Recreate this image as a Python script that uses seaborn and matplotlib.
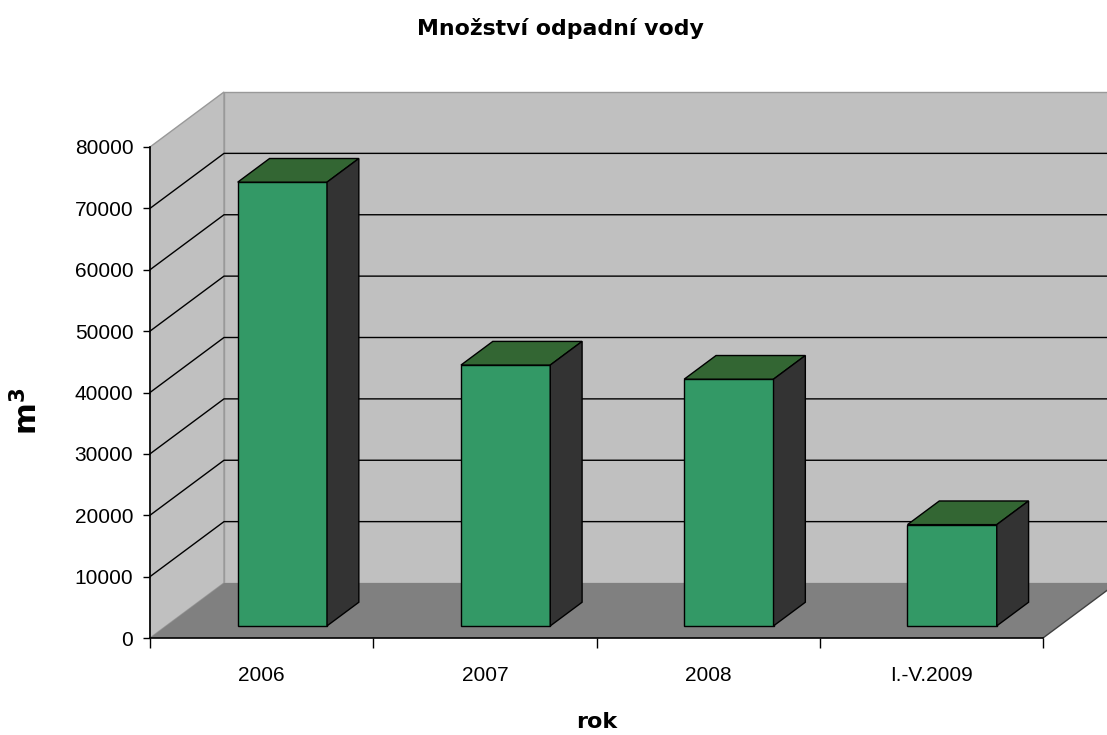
import numpy as np
import pandas as pd
import matplotlib
matplotlib.use("Agg")
import matplotlib.pyplot as plt
from matplotlib.patches import Polygon
import seaborn as sns

# chart data
years = ["2006", "2007", "2008", "I.-V.2009"]
volumes = [72300, 42500, 40200, 16500]
y_ticks = [0, 10000, 20000, 30000, 40000, 50000, 60000, 70000, 80000]

front_green = "#339966"
top_green = "#336633"
side_dark = "#333333"
wall_grey = "#c0c0c0"
floor_grey = "#808080"

sns.set_theme(style="ticks")
plt.rcParams["font.family"] = ["Liberation Sans", "DejaVu Sans"]
plt.rcParams["mathtext.fontset"] = "dejavusans"
plt.rcParams.update({"text.color": "black", "axes.labelcolor": "black",
                     "xtick.color": "black", "ytick.color": "black"})

fig = plt.figure(figsize=(11.07, 7.35), dpi=100)
ax = fig.add_axes([150 / 1107, 97 / 735, 893 / 1107, 491 / 735])

# depth of the fake 3d box in data units (about 74 px right, 55 px up)
DX = 4 * 74 / 893
DY = 80000 * 55 / 491
x0, x1 = -0.5, len(years) - 0.5
ytop = y_ticks[-1]


def pt(x, v, d):
    return (x + d * DX, v + d * DY)


# walls and floor
back = Polygon([pt(x0, 0, 1), pt(x1, 0, 1), pt(x1, ytop, 1), pt(x0, ytop, 1)],
               facecolor=wall_grey, edgecolor="#999999", lw=1, zorder=0.5, clip_on=False)
side = Polygon([pt(x0, 0, 0), pt(x0, 0, 1), pt(x0, ytop, 1), pt(x0, ytop, 0)],
               facecolor=wall_grey, edgecolor="#999999", lw=1, zorder=0.5, clip_on=False)
floor = Polygon([pt(x0, 0, 0), pt(x1, 0, 0), pt(x1, 0, 1), pt(x0, 0, 1)],
                facecolor=floor_grey, edgecolor="none", zorder=0.6, clip_on=False)
for p in (back, side, floor):
    ax.add_patch(p)
ax.plot([pt(x1, 0, 0)[0], pt(x1, 0, 1)[0]], [pt(x1, 0, 0)[1], pt(x1, 0, 1)[1]],
        color="#404040", lw=1, zorder=0.7, clip_on=False)

# gridlines on side + back wall
for v in y_ticks[1:-1]:
    xs, ys = zip(pt(x0, v, 0), pt(x0, v, 1), pt(x1, v, 1))
    ax.plot(xs, ys, color="black", lw=1, zorder=1, clip_on=False)

# front faces through seaborn
df = pd.DataFrame({"rok": years, "objem": volumes})
sns.barplot(data=df, x="rok", y="objem", color=front_green, saturation=1,
            width=0.4, edgecolor="black", linewidth=1, ax=ax, zorder=3)

d_front, d_back = 0.22, 0.65
dd = d_back - d_front
for bar in ax.containers[0]:
    bar.set_x(bar.get_x() + d_front * DX + 0.02)
    bar.set_y(d_front * DY)
    bar.set_clip_on(False)
    bx, bw = bar.get_x(), bar.get_width()
    by, bh = bar.get_y(), bar.get_height()
    top = Polygon([(bx, by + bh), (bx + bw, by + bh),
                   (bx + bw + dd * DX, by + bh + dd * DY), (bx + dd * DX, by + bh + dd * DY)],
                  facecolor=top_green, edgecolor="black", lw=1, zorder=3, clip_on=False)
    right = Polygon([(bx + bw, by), (bx + bw + dd * DX, by + dd * DY),
                     (bx + bw + dd * DX, by + bh + dd * DY), (bx + bw, by + bh)],
                    facecolor=side_dark, edgecolor="black", lw=1, zorder=3, clip_on=False)
    ax.add_patch(top)
    ax.add_patch(right)

ax.set_xlim(x0, x1)
ax.set_ylim(0, ytop)
ax.patch.set_visible(False)
for s in ("top", "right"):
    ax.spines[s].set_visible(False)
for s in ("left", "bottom"):
    ax.spines[s].set_color("black")
    ax.spines[s].set_linewidth(1.2)

ax.set_yticks(y_ticks)
ax.set_yticklabels([str(v) for v in y_ticks])
ax.set_xticks(range(len(years)))
ax.set_xticklabels(years)
ax.set_xticks(np.arange(x0, x1 + 0.1, 1), minor=True)
ax.tick_params(axis="y", direction="out", length=5, width=1, color="black",
               pad=7, labelsize=15, left=True)
ax.tick_params(axis="x", which="major", length=0, pad=20, labelsize=15)
ax.tick_params(axis="x", which="minor", direction="out", length=7, width=1,
               color="black", bottom=True)

ax.set_xlabel("rok", fontsize=16, fontweight="bold", family="DejaVu Sans")
ax.xaxis.set_label_coords(0.5, (638 - 728) / 491)
ax.xaxis.label.set_va("baseline")
ax.set_ylabel(r"$\mathbf{m^3}$", fontsize=22)
ax.yaxis.set_label_coords(-0.118, 0.462)

fig.text(560 / 1107, 1 - 35 / 735, "Množství odpadní vody", ha="center", va="baseline",
         fontsize=15.8, fontweight="bold", family="DejaVu Sans")

fig.savefig("out.png", dpi=100)
